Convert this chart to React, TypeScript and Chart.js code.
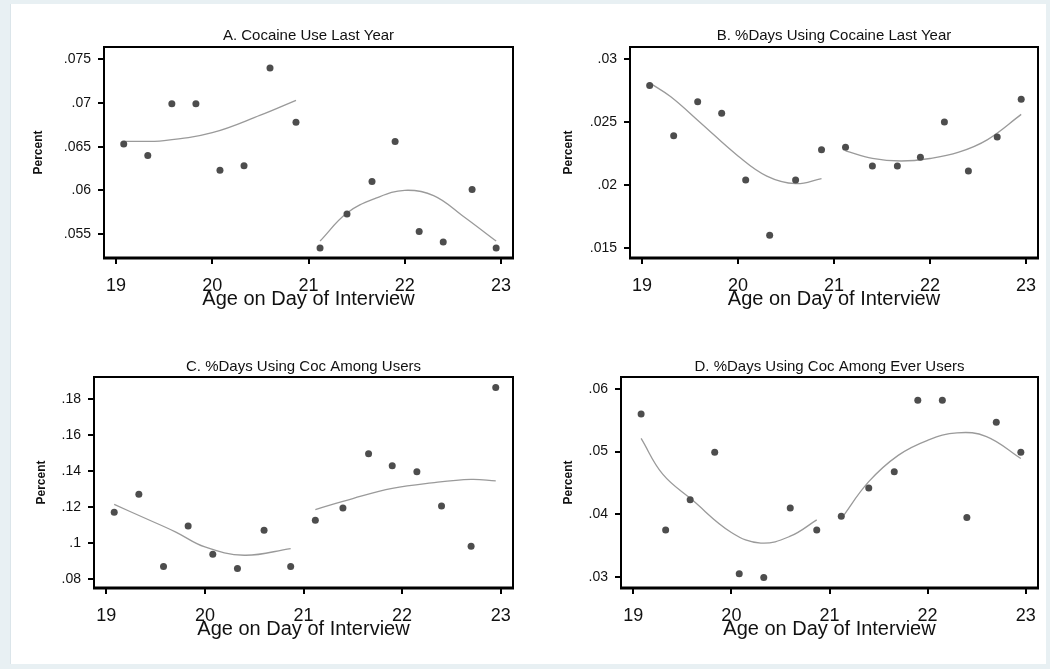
import React, { useEffect, useRef } from 'react';
import { Chart, registerables } from 'chart.js';

Chart.register(...registerables);

// ---------------- data ----------------
const AGES = [19.08, 19.33, 19.58, 19.83, 20.08, 20.33, 20.6, 20.87, 21.12, 21.4, 21.66, 21.9, 22.15, 22.4, 22.7, 22.95];

const A_VALUES = [0.0653, 0.064, 0.0699, 0.0699, 0.0623, 0.0628, 0.074, 0.0678, 0.0534, 0.0573, 0.061, 0.0656, 0.0553, 0.0541, 0.0601, 0.0534];
const B_VALUES = [0.0279, 0.0239, 0.0266, 0.0257, 0.0204, 0.016, 0.0204, 0.0228, 0.023, 0.0215, 0.0215, 0.0222, 0.025, 0.0211, 0.0238, 0.0268];
const C_VALUES = [0.1171, 0.1271, 0.087, 0.1095, 0.0937, 0.0859, 0.1071, 0.087, 0.1127, 0.1195, 0.1496, 0.1429, 0.1396, 0.1206, 0.0982, 0.1863];
const D_VALUES = [0.056, 0.0375, 0.0423, 0.0499, 0.0305, 0.0299, 0.041, 0.0375, 0.0397, 0.0442, 0.0468, 0.0582, 0.0582, 0.0395, 0.0547, 0.0499];

// fitted curves
const A_FIT1_X = [19.08, 19.5, 20.0, 20.5, 20.87];
const A_FIT1_Y = [0.0656, 0.0657, 0.0666, 0.0686, 0.0703];
const A_FIT2_X = [21.12, 21.4, 21.7, 22.0, 22.3, 22.6, 22.95];
const A_FIT2_Y = [0.0542, 0.0574, 0.0591, 0.06, 0.0594, 0.0571, 0.0542];

const B_FIT1_X = [19.08, 19.3, 19.6, 20.0, 20.3, 20.6, 20.87];
const B_FIT1_Y = [0.0281, 0.027, 0.025, 0.0223, 0.0207, 0.0201, 0.0205];
const B_FIT2_X = [21.12, 21.4, 21.7, 22.0, 22.3, 22.6, 22.95];
const B_FIT2_Y = [0.0227, 0.0221, 0.0219, 0.0221, 0.0226, 0.0236, 0.0256];

const C_FIT1_X = [19.08, 19.4, 19.7, 20.0, 20.4, 20.87];
const C_FIT1_Y = [0.1214, 0.1136, 0.1062, 0.0978, 0.0932, 0.0969];
const C_FIT2_X = [21.12, 21.5, 21.9, 22.3, 22.7, 22.95];
const C_FIT2_Y = [0.1186, 0.1247, 0.1303, 0.1334, 0.1353, 0.1345];

const D_FIT1_X = [19.08, 19.3, 19.6, 20.0, 20.3, 20.6, 20.87];
const D_FIT1_Y = [0.0521, 0.0464, 0.0423, 0.0371, 0.0354, 0.0365, 0.0391];
const D_FIT2_X = [21.12, 21.4, 21.7, 22.0, 22.3, 22.6, 22.95];
const D_FIT2_Y = [0.0393, 0.0452, 0.0494, 0.0518, 0.053, 0.0524, 0.0489];

const X_TICKS = [19, 20, 21, 22, 23];
const X_TICK_LABELS = ['19', '20', '21', '22', '23'];

const A_Y_TICKS = [0.055, 0.06, 0.065, 0.07, 0.075];
const A_Y_TICK_LABELS = ['.055', '.06', '.065', '.07', '.075'];
const B_Y_TICKS = [0.015, 0.02, 0.025, 0.03];
const B_Y_TICK_LABELS = ['.015', '.02', '.025', '.03'];
const C_Y_TICKS = [0.08, 0.1, 0.12, 0.14, 0.16, 0.18];
const C_Y_TICK_LABELS = ['.08', '.1', '.12', '.14', '.16', '.18'];
const D_Y_TICKS = [0.03, 0.04, 0.05, 0.06];
const D_Y_TICK_LABELS = ['.03', '.04', '.05', '.06'];

const TITLES = [
  'A. Cocaine Use Last Year',
  'B. %Days Using Cocaine Last Year',
  'C. %Days Using Coc Among Users',
  'D. %Days Using Coc Among Ever Users',
];
const X_TITLE = 'Age on Day of Interview';
const Y_TITLE = 'Percent';

// ---------------- layout / style ----------------
const FONT = "'Liberation Sans', Arial, Helvetica, sans-serif";
const CANVAS_W = 525;
const CANVAS_H = 330;

type PanelCfg = {
  title: string;
  values: number[];
  fits: [number[], number[]][];
  yTicks: number[];
  yLabels: string[];
  yMin: number;
  yMax: number;
  left: number;
  top: number;
  yWidth: number;
  yTitlePad: number;
  titlePadTop: number;
};

const PANELS: PanelCfg[] = [
  {
    title: TITLES[0], values: A_VALUES, fits: [[A_FIT1_X, A_FIT1_Y], [A_FIT2_X, A_FIT2_Y]],
    yTicks: A_Y_TICKS, yLabels: A_Y_TICK_LABELS, yMin: 0.05226, yMax: 0.0764,
    left: 0, top: 0, yWidth: 104, yTitlePad: 31, titlePadTop: 27,
  },
  {
    title: TITLES[1], values: B_VALUES, fits: [[B_FIT1_X, B_FIT1_Y], [B_FIT2_X, B_FIT2_Y]],
    yTicks: B_Y_TICKS, yLabels: B_Y_TICK_LABELS, yMin: 0.0142, yMax: 0.03095,
    left: 525, top: 0, yWidth: 105, yTitlePad: 36, titlePadTop: 27,
  },
  {
    title: TITLES[2], values: C_VALUES, fits: [[C_FIT1_X, C_FIT1_Y], [C_FIT2_X, C_FIT2_Y]],
    yTicks: C_Y_TICKS, yLabels: C_Y_TICK_LABELS, yMin: 0.075, yMax: 0.1922,
    left: 0, top: 330, yWidth: 94, yTitlePad: 34, titlePadTop: 28,
  },
  {
    title: TITLES[3], values: D_VALUES, fits: [[D_FIT1_X, D_FIT1_Y], [D_FIT2_X, D_FIT2_Y]],
    yTicks: D_Y_TICKS, yLabels: D_Y_TICK_LABELS, yMin: 0.02824, yMax: 0.0619,
    left: 525, top: 330, yWidth: 96, yTitlePad: 36, titlePadTop: 28,
  },
];

const boxPlugin = {
  id: 'plotBox',
  beforeDatasetsDraw(chart: any) {
    const { ctx, chartArea } = chart;
    const { left, top, right, bottom } = chartArea;
    ctx.save();
    ctx.strokeStyle = '#000';
    ctx.lineWidth = 2;
    ctx.strokeRect(left, top, right - left, bottom - top);
    ctx.lineWidth = 3;
    ctx.beginPath();
    ctx.moveTo(left - 1, bottom);
    ctx.lineTo(right + 1, bottom);
    ctx.stroke();
    ctx.restore();
  },
};

function labelFor(vals: number[], labels: string[], v: number) {
  let best = 0;
  for (let i = 1; i < vals.length; i++) {
    if (Math.abs(vals[i] - v) < Math.abs(vals[best] - v)) best = i;
  }
  return labels[best];
}

function Panel({ cfg }: { cfg: PanelCfg }) {
  const ref = useRef<HTMLCanvasElement | null>(null);
  useEffect(() => {
    if (!ref.current) return;
    const datasets: any[] = [
      {
        data: AGES.map((a, i) => ({ x: a, y: cfg.values[i] })),
        pointRadius: 3.5,
        pointBackgroundColor: '#4d4d4d',
        pointBorderWidth: 0,
        showLine: false,
        order: 0,
      },
      ...cfg.fits.map(([xs, ys]) => ({
        data: xs.map((x, i) => ({ x, y: ys[i] })),
        showLine: true,
        borderColor: '#9a9a9a',
        borderWidth: 1.3,
        pointRadius: 0,
        tension: 0.4,
        order: 1,
      })),
    ];
    const chart = new Chart(ref.current, {
      type: 'scatter',
      data: { datasets },
      plugins: [boxPlugin],
      options: {
        animation: false,
        responsive: false,
        devicePixelRatio: 1,
        events: [],
        layout: { padding: { left: 0, right: 12, top: 0, bottom: 0 } },
        plugins: {
          legend: { display: false },
          tooltip: { enabled: false },
          title: {
            display: true,
            text: cfg.title,
            fullSize: false,
            color: '#111',
            font: { size: 15, family: FONT, weight: 'normal' },
            padding: { top: cfg.titlePadTop, bottom: 47 - 18 - cfg.titlePadTop },
          },
        },
        scales: {
          x: {
            type: 'linear',
            min: 18.875,
            max: 23.125,
            afterBuildTicks: (s: any) => {
              s.ticks = X_TICKS.map((v) => ({ value: v }));
            },
            afterFit: (s: any) => {
              s.height = CANVAS_H - 258;
            },
            ticks: {
              autoSkip: false,
              maxRotation: 0,
              padding: 11,
              color: '#111',
              font: { size: 18, family: FONT },
              callback: (v: any) => labelFor(X_TICKS, X_TICK_LABELS, Number(v)),
            },
            grid: {
              drawOnChartArea: false,
              drawTicks: true,
              tickLength: 6,
              color: '#000',
              lineWidth: 2,
            },
            border: { display: false },
            title: {
              display: true,
              text: X_TITLE,
              color: '#111',
              font: { size: 20, family: FONT },
              padding: { top: 0, bottom: 19 },
            },
          },
          y: {
            type: 'linear',
            min: cfg.yMin,
            max: cfg.yMax,
            afterBuildTicks: (s: any) => {
              s.ticks = cfg.yTicks.map((v) => ({ value: v }));
            },
            afterFit: (s: any) => {
              s.width = cfg.yWidth;
            },
            ticks: {
              autoSkip: false,
              padding: 7,
              color: '#111',
              font: { size: 14, family: FONT },
              callback: (v: any) => labelFor(cfg.yTicks, cfg.yLabels, Number(v)),
            },
            grid: {
              drawOnChartArea: false,
              drawTicks: true,
              tickLength: 6,
              color: '#000',
              lineWidth: 2,
            },
            border: { display: false },
            title: {
              display: true,
              text: Y_TITLE,
              color: '#111',
              font: { size: 12, family: FONT, weight: 'bold' },
              padding: { top: cfg.yTitlePad, bottom: 0 },
            },
          },
        },
      } as any,
    });
    return () => chart.destroy();
  }, [cfg]);
  return (
    <canvas
      ref={ref}
      width={CANVAS_W}
      height={CANVAS_H}
      style={{ position: 'absolute', left: cfg.left, top: cfg.top, width: CANVAS_W, height: CANVAS_H }}
    />
  );
}

export default function App() {
  return (
    <div
      style={{
        position: 'absolute',
        left: 0,
        top: 0,
        width: 1050,
        height: 669,
        background: '#e8f0f3',
        overflow: 'hidden',
      }}
    >
      <div
        style={{
          position: 'absolute',
          left: 10,
          top: 4,
          width: 1036,
          height: 660,
          background: '#ffffff',
          borderLeft: '1px solid #dbe5ea',
          boxSizing: 'border-box',
        }}
      />
      {PANELS.map((p, i) => (
        <Panel key={i} cfg={p} />
      ))}
    </div>
  );
}
